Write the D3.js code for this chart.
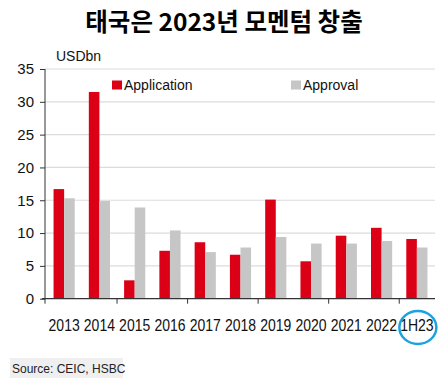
<!DOCTYPE html>
<html>
<head>
<meta charset="utf-8">
<script src="https://d3js.org/d3.v7.min.js"></script>
<style>
  body { margin: 0; background: #fff; }
  text { font-family: Arial, "Liberation Sans", sans-serif; }
</style>
</head>
<body>
<div id="graph"></div>
<script>

// Data
var categories = ['2013', '2014', '2015', '2016', '2017', '2018', '2019', '2020', '2021', '2022', '1H23']
var application = [16.7, 31.5, 2.8, 7.3, 8.6, 6.7, 15.1, 5.7, 9.6, 10.8, 9.1]
var approval = [15.3, 14.9, 13.9, 10.4, 7.1, 7.8, 9.4, 8.4, 8.4, 8.8, 7.8]
var yTicks = [0, 5, 10, 15, 20, 25, 30, 35]
var seriesNames = ['Application', 'Approval']
var colors = ['#dc0016', '#c6c6c6']

var W = 448, H = 381
var svg = d3.select('#graph').append('svg')
    .attr('width', W).attr('height', H)

// Scales
var x = d3.scaleBand()
    .domain(categories)
    .range([46.5, 434.5])
    .paddingInner(0.4)
    .paddingOuter(0.2)
var x1 = d3.scaleBand()
    .domain(seriesNames)
    .range([0, x.bandwidth()])
var y = d3.scaleLinear()
    .domain([0, 35])
    .range([298.7, 69])

// x0 scale without padding, used for the outer ticks
var xb = d3.scaleBand().domain(categories).range([46.5, 434.5])

// Title
svg.append('text')
    .attr('x', 224).attr('y', 31)
    .attr('text-anchor', 'middle')
    .style('font-family', '"Noto Sans CJK KR", sans-serif')
    .style('font-size', '24.5px')
    .style('font-weight', 'bold')
    .text('태국은 2023년 모멘텀 창출')

// Unit label
svg.append('text')
    .attr('x', 56).attr('y', 61)
    .style('font-size', '14px')
    .attr('fill', '#111')
    .text('USDbn')

// Gridlines
svg.append('g')
    .selectAll('line')
    .data(yTicks.filter(function(d) { return d > 0 }))
    .join('line')
    .attr('x1', 45).attr('x2', 435)
    .attr('y1', function(d) { return y(d) })
    .attr('y2', function(d) { return y(d) })
    .attr('stroke', '#dcdcdc')
    .attr('stroke-width', 1.2)

// Y axis
var yAxis = svg.append('g')
    .attr('transform', 'translate(45,0)')
    .call(d3.axisLeft(y).tickValues(yTicks).tickSize(5).tickPadding(6))
yAxis.selectAll('path, line').attr('stroke', '#333')
yAxis.select('.domain').attr('d', 'M0,' + y(35) + 'V' + y(0))
yAxis.selectAll('text')
    .style('font-family', 'Arial, "Liberation Sans", sans-serif')
    .style('font-size', '15px')
    .attr('fill', '#111')

// Bars
var groups = svg.append('g')
    .selectAll('g')
    .data(categories)
    .join('g')
    .attr('transform', function(d) { return 'translate(' + x(d) + ',0)' })

groups.selectAll('rect')
    .data(function(d, i) {
      return [{key: seriesNames[0], v: application[i]}, {key: seriesNames[1], v: approval[i]}]
    })
    .join('rect')
    .attr('x', function(d) { return x1(d.key) })
    .attr('width', x1.bandwidth())
    .attr('y', function(d) { return y(d.v) })
    .attr('height', function(d) { return y(0) - y(d.v) })
    .attr('fill', function(d, i) { return colors[i] })

// X axis line with a tick every two categories
svg.append('line')
    .attr('x1', 42).attr('x2', 435)
    .attr('y1', y(0)).attr('y2', y(0))
    .attr('stroke', '#333').attr('stroke-width', 1.2)

var tickPos = [0, 2, 4, 6, 8, 10].map(function(i) { return xb(categories[i]) + (i === 0 ? -1.5 : 0) })
svg.append('g')
    .selectAll('line')
    .data(tickPos)
    .join('line')
    .attr('x1', function(d) { return d }).attr('x2', function(d) { return d })
    .attr('y1', y(0)).attr('y2', y(0) + 5)
    .attr('stroke', '#333')

svg.append('g')
    .selectAll('text')
    .data(categories)
    .join('text')
    .attr('transform', function(d) {
      return 'translate(' + (xb(d) + xb.bandwidth() / 2) + ',331) scale(1,1.12)'
    })
    .attr('text-anchor', 'middle')
    .style('font-size', '14px')
    .attr('fill', '#111')
    .text(function(d) { return d })

// Highlight circle round the last label
var last = categories[categories.length - 1]
svg.append('ellipse')
    .attr('cx', xb(last) + xb.bandwidth() / 2 + 1)
    .attr('cy', 327.5)
    .attr('rx', 18.5).attr('ry', 16.5)
    .attr('fill', 'none')
    .attr('stroke', '#1aa3e0')
    .attr('stroke-width', 2.5)

// Legend
var legendX = [112, 291]
seriesNames.forEach(function(name, i) {
  svg.append('rect')
      .attr('x', legendX[i]).attr('y', 80.5)
      .attr('width', 10).attr('height', 9)
      .attr('fill', colors[i])
  svg.append('text')
      .attr('x', legendX[i] + 12).attr('y', 90)
      .style('font-size', '14px')
      .attr('fill', '#111')
      .text(name)
})

// Source note
svg.append('rect')
    .attr('x', 10).attr('y', 358)
    .attr('width', 113).attr('height', 20)
    .attr('fill', '#efefef')
svg.append('text')
    .attr('x', 12).attr('y', 373)
    .style('font-size', '12px')
    .attr('fill', '#222')
    .text('Source: CEIC, HSBC')

</script>
</body>
</html>
